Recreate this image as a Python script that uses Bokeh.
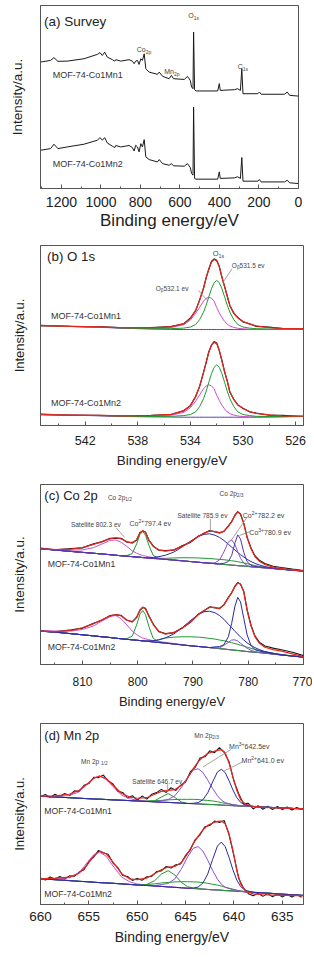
from bokeh.plotting import figure
from bokeh.layouts import column
from bokeh.models import Range1d, FixedTicker
from bokeh.core.properties import value
from bokeh.embed import file_html
from bokeh.resources import INLINE

FONT = "Liberation Sans"
AXC = "#555555"
TXT = "#222222"
ANN = "#444444"
RAW = "#1a1a1a"
RED = "#e8261c"
GRN = "#1f9a2e"
MAG = "#cc4fcf"
BLU = "#2a2aa0"
PUR = "#8a4fd0"
VIO = "#5a2fb5"
BAS = "#5b3fb8"
LEAD = "#8c8c8c"

SAMPLES = ["MOF-74-Co1Mn1", "MOF-74-Co1Mn2"]

# ---------------- (a) survey ----------------
SURV_E = [1306, 1255, 1238, 1218, 1171, 1086, 1018, 1005, 993, 981, 968, 942, 930, 925, 900, 858, 841, 832, 824, 815,
          807, 798, 790, 781, 773, 756, 714, 705, 688, 655, 643, 633, 578, 562, 548, 541, 534, 531, 526, 519,
          409, 401, 396, 325, 308, 294, 287, 281, 206, 198, 189, 71, 57, 45, 0]
SURV_I_1 = [69.1, 70.0, 71.5, 69.5, 69.6, 70.9, 73.3, 74.2, 72.7, 74.5, 71.8, 70.4, 69.6, 70.4, 69.6, 70.4, 69.6, 68.2, 69.6, 70.0,
            67.8, 70.9, 70.0, 73.6, 65.5, 63.6, 62.4, 63.6, 61.3, 60.0, 61.8, 60.0, 59.6, 61.3, 59.1, 55.5, 54.5, 85.5, 54.0, 53.3,
            53.3, 57.3, 53.6, 54.0, 54.5, 53.6, 65.5, 51.8, 51.8, 52.7, 51.5, 51.5, 52.7, 50.9, 50.5]
SURV_I_2 = [20.9, 21.8, 24.2, 21.8, 22.7, 24.2, 26.4, 27.8, 26.4, 27.8, 24.9, 23.1, 22.4, 23.5, 22.7, 23.5, 22.4, 20.5, 23.6, 22.7,
            20.0, 24.5, 22.7, 26.7, 17.3, 15.8, 14.5, 15.8, 13.6, 12.7, 13.6, 12.4, 12.2, 13.6, 11.5, 8.2, 7.3, 44.5, 5.5, 5.1,
            5.1, 9.1, 5.5, 5.8, 6.4, 5.5, 16.9, 4.0, 4.0, 4.9, 3.6, 3.6, 4.5, 3.1, 2.7]
SURV_TICKS = [1200, 1000, 800, 600, 400, 200, 0]
SURV_MINOR = [1300, 1100, 900, 700, 500, 300, 100]

# ---------------- (b) O 1s ----------------
E_O = [545.4, 543.0, 541.0, 539.0, 537.0, 535.5, 534.5, 534.0, 533.6, 533.3, 533.0, 532.8, 532.6, 532.4, 532.2,
       532.0, 531.8, 531.6, 531.4, 531.2, 531.0, 530.7, 530.4, 530.0, 529.5, 529.0, 528.0, 527.0, 525.4]
O_BASE_1 = [55.4, 55.0, 54.6, 54.0, 53.6, 53.4, 53.3, 53.3, 53.3, 53.3, 53.3, 53.3, 53.3, 53.3, 53.3,
            53.3, 53.3, 53.3, 53.3, 53.3, 53.3, 53.3, 53.3, 53.3, 53.3, 53.3, 53.3, 53.4, 53.5]
O_A_1 = [0, 0, 0.1, 0.1, 0.2, 0.4, 0.8, 1.4, 2.8, 5.5, 9.7, 13.6, 18.2, 22.6, 26.0,
         27.3, 26.0, 22.6, 18.2, 13.6, 9.7, 5.5, 2.8, 1.4, 0.8, 0.5, 0.3, 0.2, 0.1]
O_B_1 = [0.05, 0.1, 0.1, 0.2, 0.5, 1.0, 2.7, 5.3, 9.0, 12.4, 15.8, 17.4, 18.0, 17.4, 15.8,
         12.2, 9.2, 6.7, 4.5, 3.0, 2.0, 1.2, 0.7, 0.4, 0.2, 0.1, 0.1, 0.1, 0.1]
O_FIT_1 = [55.5, 55.1, 54.8, 54.3, 54.3, 54.8, 56.6, 59.5, 64.0, 69.5, 76.5, 82.0, 87.0, 90.8, 92.2,
           91.5, 88.0, 82.5, 77.0, 72.0, 66.5, 62.5, 59.8, 57.8, 56.3, 55.3, 54.4, 54.0, 53.7]
O_RAW_1 = [55.7, 55.0, 54.9, 54.2, 54.4, 54.9, 56.5, 59.7, 63.8, 69.8, 76.2, 82.3, 86.8, 91.1, 92.6,
           91.8, 88.3, 82.2, 77.3, 71.8, 66.7, 62.3, 60.0, 57.6, 56.5, 55.1, 54.6, 53.8, 53.8]
O_BASE_2 = [6.0, 5.7, 5.4, 5.0, 4.8, 4.7, 4.6, 4.6, 4.6, 4.6, 4.6, 4.6, 4.6, 4.6, 4.6,
            4.6, 4.6, 4.6, 4.6, 4.6, 4.6, 4.6, 4.6, 4.6, 4.6, 4.6, 4.7, 4.8, 5.0]
O_A_2 = [0, 0, 0.1, 0.1, 0.2, 0.4, 0.9, 1.5, 3.0, 5.9, 10.3, 14.5, 19.4, 24.1, 27.7,
         29.1, 27.7, 24.1, 19.4, 14.5, 10.3, 5.9, 3.0, 1.5, 0.9, 0.5, 0.3, 0.2, 0.1]
O_B_2 = [0.05, 0.1, 0.1, 0.2, 0.5, 1.0, 2.7, 5.3, 9.0, 12.4, 15.8, 17.4, 18.0, 17.4, 15.8,
         12.2, 9.2, 6.7, 4.5, 3.0, 2.0, 1.2, 0.7, 0.4, 0.2, 0.1, 0.1, 0.1, 0.1]
O_FIT_2 = [6.1, 5.8, 5.6, 5.3, 5.55, 6.2, 8.1, 11.2, 16.0, 21.9, 29.4, 35.3, 40.7, 44.7, 46.2,
           45.5, 41.7, 35.8, 30.0, 24.6, 18.7, 14.4, 11.6, 9.4, 7.8, 6.7, 5.9, 5.4, 5.2]
O_RAW_2 = [6.3, 5.7, 5.7, 5.2, 5.6, 6.0, 8.3, 11.0, 16.2, 21.6, 29.7, 35.0, 41.0, 44.5, 46.6,
           45.8, 41.5, 36.1, 29.8, 24.9, 18.5, 14.6, 11.4, 9.6, 7.6, 6.9, 5.7, 5.6, 5.0]
O_TICKS = [542, 538, 534, 530, 526]
O_MINOR = [544, 540, 536, 532, 528]

# ---------------- (c) Co 2p ----------------
E_CO = [817.6, 815, 812, 810, 808, 806.5, 805, 804, 803, 802, 801, 800.2, 799.6, 799.1, 798.6, 798, 797.2, 796.2,
        795, 793.5, 792, 790.5, 789, 788, 787, 786, 785.2, 784.4, 783.6, 783, 782.4, 781.9, 781.4, 780.8, 780.2,
        779.5, 778.8, 778, 777, 775.5, 774, 772, 770]
CO_BASE_1 = [64.3, 63.6, 62.8, 62.3, 61.8, 61.4, 61.0, 60.7, 60.4, 60.2, 59.9, 59.7, 59.6, 59.4, 59.3, 59.1, 58.9, 58.7,
             58.4, 58.0, 57.6, 57.2, 56.8, 56.5, 56.3, 56.0, 55.8, 55.6, 55.4, 55.2, 55.1, 54.9, 54.8, 54.7, 54.5,
             54.3, 54.1, 53.9, 53.7, 53.3, 52.9, 52.4, 51.9]
CO_SHIR_1 = [0, 0, 0, 0, 0, 0, 0, 0, 0, 0, 0, 0, 0, 0, 0, 0, 0, 0.2,
             0.6, 1.2, 1.7, 2.1, 2.4, 2.5, 2.6, 2.6, 2.6, 2.6, 2.5, 2.4, 2.3, 2.2, 2.0, 1.8, 1.5,
             1.2, 0.9, 0.6, 0.3, 0.1, 0, 0, 0]
CO_SAT1_1 = [0.1, 0.3, 0.7, 1.4, 3.1, 5.5, 7.9, 8.5, 7.5, 5.5, 3.3, 2.1, 1.5, 1.1, 0.9, 0.7, 0.5, 0.4,
             0.3, 0.2, 0.1, 0, 0, 0, 0, 0, 0, 0, 0, 0, 0, 0, 0, 0, 0,
             0, 0, 0, 0, 0, 0, 0, 0]
CO_P12_1 = [0, 0, 0, 0, 0, 0, 0, 0, 0, 0.3, 1.7, 7.3, 12.6, 14.5, 12.6, 7.3, 1.7, 0.3,
            0, 0, 0, 0, 0, 0, 0, 0, 0, 0, 0, 0, 0, 0, 0, 0, 0,
            0, 0, 0, 0, 0, 0, 0, 0]
CO_SAT2_1 = [0, 0, 0, 0, 0, 0, 0, 0, 0, 0, 0, 0, 0, 0, 0, 0.3, 0.6, 1.2,
             2.3, 4.4, 7.6, 11.2, 14.4, 15.8, 16.3, 15.8, 14.8, 13.3, 11.4, 10.0, 8.5, 7.3, 6.2, 5.0, 3.9,
             2.9, 2.1, 1.4, 0.7, 0.3, 0.1, 0, 0]
CO_II_1 = [0, 0, 0, 0, 0, 0, 0, 0, 0, 0, 0, 0, 0, 0, 0, 0, 0, 0,
           0, 0, 0, 0, 0, 0, 0, 0.5, 2.3, 7.0, 12.7, 14.0, 11.5, 7.8, 4.3, 1.6, 0.5,
           0.1, 0, 0, 0, 0, 0, 0, 0]
CO_III_1 = [0, 0, 0, 0, 0, 0, 0, 0, 0, 0, 0, 0, 0, 0, 0, 0, 0, 0,
            0, 0, 0, 0, 0, 0, 0, 0, 0, 0.6, 1.8, 5.4, 12.5, 17.1, 14.9, 7.5, 2.6,
            0.8, 0.4, 0.3, 0.2, 0.1, 0, 0, 0]
CO_FIT_1 = [64.3, 63.9, 64.1, 65.0, 66.7, 68.3, 69.8, 70.4, 69.8, 68.3, 67.4, 69.3, 73.0, 74.4, 73.3, 69.3, 65.6, 63.7,
            63.0, 63.7, 65.6, 68.0, 71.1, 73.0, 74.1, 73.9, 73.0, 74.1, 76.7, 79.6, 82.8, 84.6, 83.7, 78.1, 70.7,
            64.3, 60.0, 57.4, 55.6, 54.1, 53.3, 52.6, 51.9]
CO_RAW_1 = [64.6, 63.7, 64.4, 64.8, 67.0, 68.1, 70.1, 70.2, 70.1, 68.0, 67.7, 69.0, 73.3, 74.2, 73.6, 69.0, 65.9, 63.5,
            63.3, 63.5, 65.9, 67.8, 71.4, 72.8, 74.4, 73.7, 73.3, 73.9, 77.0, 79.3, 83.1, 84.9, 83.5, 78.4, 70.5,
            64.7, 60.4, 57.9, 56.1, 54.6, 53.9, 53.0, 52.2]
CO_BASE_2 = [18.5, 18.0, 17.1, 16.5, 15.9, 15.4, 15.0, 14.6, 14.3, 14.0, 13.7, 13.5, 13.3, 13.1, 13.0, 12.8, 12.5, 12.2,
             11.9, 11.4, 10.9, 10.4, 10.0, 9.7, 9.4, 9.1, 8.8, 8.6, 8.3, 8.1, 7.9, 7.8, 7.6, 7.4, 7.2,
             7.0, 6.8, 6.6, 6.3, 5.8, 5.3, 4.7, 4.1]
CO_SHIR_2 = [0, 0, 0, 0, 0, 0, 0, 0, 0, 0, 0, 0, 0, 0, 0, 0, 0.5, 1.5,
             2.8, 3.8, 4.5, 5.0, 5.2, 5.2, 5.1, 5.0, 4.8, 4.6, 4.3, 4.0, 3.7, 3.4, 3.1, 2.8, 2.4,
             2.0, 1.6, 1.2, 0.8, 0.5, 0.3, 0.1, 0]
CO_SAT1_2 = [0.2, 0.6, 1.5, 3.0, 5.5, 8.7, 11.7, 12.6, 11.1, 8.1, 4.9, 3.1, 2.2, 1.6, 1.3, 1.0, 0.7, 0.6,
             0.4, 0.3, 0.15, 0, 0, 0, 0, 0, 0, 0, 0, 0, 0, 0, 0, 0, 0,
             0, 0, 0, 0, 0, 0, 0, 0]
CO_P12_2 = [0, 0, 0, 0, 0, 0, 0, 0, 0, 0.35, 2.0, 8.5, 14.7, 16.9, 14.7, 8.5, 2.0, 0.35,
            0, 0, 0, 0, 0, 0, 0, 0, 0, 0, 0, 0, 0, 0, 0, 0, 0,
            0, 0, 0, 0, 0, 0, 0, 0]
CO_SAT2_2 = [0, 0, 0, 0, 0, 0, 0, 0, 0, 0, 0, 0, 0, 0, 0, 0.4, 0.7, 1.5,
             2.9, 5.5, 9.4, 13.9, 17.9, 19.6, 20.2, 19.6, 18.4, 16.5, 14.1, 12.4, 10.5, 9.1, 7.7, 6.2, 4.8,
             3.6, 2.6, 1.7, 0.9, 0.4, 0.1, 0, 0]
CO_II_2 = [0, 0, 0, 0, 0, 0, 0, 0, 0, 0, 0, 0, 0, 0, 0, 0, 0, 0,
           0, 0, 0, 0, 0, 0, 0, 0, 0.5, 2.0, 4.0, 5.5, 5.8, 5.2, 4.2, 3.0, 1.8,
           0.9, 0.4, 0.2, 0, 0, 0, 0, 0]
CO_III_2 = [0, 0, 0, 0, 0, 0, 0, 0, 0, 0, 0, 0, 0, 0, 0, 0, 0, 0,
            0, 0, 0, 0, 0, 0, 0, 0.7, 1.1, 2.4, 7.1, 14.8, 24.6, 29.5, 27.2, 18.1, 9.2,
            3.6, 1.5, 0.9, 0.6, 0.3, 0, 0, 0]
CO_FIT_2 = [18.5, 18.3, 18.9, 20.4, 22.6, 24.8, 26.9, 27.8, 27.0, 24.8, 23.5, 26.3, 30.0, 31.9, 30.9, 27.2, 22.2, 18.5,
            16.9, 17.8, 20.0, 23.5, 27.8, 30.0, 31.7, 31.7, 30.9, 33.3, 37.0, 40.0, 43.3, 45.2, 44.8, 40.2, 30.0,
            21.5, 15.5, 11.9, 9.6, 8.3, 7.4, 5.9, 4.4]
CO_RAW_2 = [18.8, 18.1, 19.2, 20.2, 22.9, 24.6, 27.2, 27.6, 27.3, 24.6, 23.8, 26.1, 30.3, 31.7, 31.2, 27.0, 22.5, 18.3,
            17.2, 17.6, 20.3, 23.3, 28.1, 29.8, 32.0, 31.5, 31.2, 33.1, 37.3, 39.8, 43.6, 45.5, 44.6, 40.5, 30.3,
            21.8, 15.9, 12.4, 10.3, 9.1, 8.2, 6.8, 4.9]
CO_TICKS = [810, 800, 790, 780, 770]
CO_MINOR = [815, 805, 795, 785, 775]

# ---------------- (d) Mn 2p ----------------
E_MN = [660, 658.5, 657, 656, 655.2, 654.5, 653.9, 653.2, 652.5, 651.6, 650.8, 650, 649, 648.2, 647.5, 646.8,
        646.1, 645.4, 644.8, 644.2, 643.7, 643.2, 642.7, 642.2, 641.7, 641.3, 640.9, 640.5, 640.1, 639.7,
        639.3, 638.8, 638, 637, 636, 635, 634, 632.8]
MN_BASE_1 = [59.8, 59.4, 59.0, 58.7, 58.5, 58.3, 58.2, 58.0, 57.8, 57.6, 57.4, 57.2, 56.9, 56.7, 56.5, 56.4,
             56.2, 56.0, 55.8, 55.7, 55.6, 55.4, 55.3, 55.2, 55.1, 54.9, 54.8, 54.7, 54.6, 54.5,
             54.4, 54.3, 54.1, 53.8, 53.6, 53.3, 53.1, 52.8]
MN_SHIR_1 = [0, 0, 0, 0, 0, 0, 0, 0, 0, 0, 0, 0, 0.3, 0.6, 1.0, 1.4,
             1.8, 2.1, 2.3, 2.4, 2.4, 2.3, 2.2, 2.0, 1.7, 1.4, 1.1, 0.8, 0.5, 0.3,
             0.1, 0, 0, 0, 0, 0, 0, 0]
MN_P12_1 = [0, 0.2, 1.2, 3.6, 7.9, 11.5, 12.8, 11.1, 7.3, 2.8, 1.1, 0.4, 0.2, 0, 0, 0,
            0, 0, 0, 0, 0, 0, 0, 0, 0, 0, 0, 0, 0, 0,
            0, 0, 0, 0, 0, 0, 0, 0]
MN_SAT_1 = [0, 0, 0, 0, 0, 0, 0, 0, 0, 0, 0, 0, 0, 0.6, 2.9, 4.9,
            2.9, 0.6, 0.1, 0, 0, 0, 0, 0, 0, 0, 0, 0, 0, 0,
            0, 0, 0, 0, 0, 0, 0, 0]
MN_III_1 = [0, 0, 0, 0, 0, 0, 0, 0, 0, 0, 0, 0, 0, 0.2, 0.8, 1.6,
            3.9, 8.9, 14.3, 18.6, 19.4, 17.5, 13.4, 8.9, 5.0, 2.8, 1.5, 1.0, 0.6, 0.4,
            0.2, 0, 0, 0, 0, 0, 0, 0]
MN_II_1 = [0, 0, 0, 0, 0, 0, 0, 0, 0, 0, 0, 0, 0, 0, 0, 0,
           0, 0, 0, 0.2, 0.7, 2.5, 6.4, 12.5, 18.1, 19.8, 18.1, 13.7, 8.7, 4.6,
           2.0, 0.6, 0.1, 0, 0, 0, 0, 0]
MN_FIT_1 = [59.8, 60.0, 60.9, 63.1, 66.4, 69.6, 71.0, 69.6, 65.9, 61.3, 59.4, 58.7, 59.0, 60.9, 62.5, 63.1,
            63.5, 65.9, 69.6, 75.1, 78.8, 81.5, 83.4, 84.3, 85.2, 85.6, 83.8, 78.2, 70.5, 63.1,
            57.9, 55.4, 54.2, 53.7, 53.5, 53.3, 53.1, 52.9]
MN_BASE_2 = [14.2, 13.7, 13.2, 12.8, 12.6, 12.3, 12.1, 11.9, 11.7, 11.4, 11.1, 10.8, 10.5, 10.2, 10.0, 9.7,
             9.5, 9.2, 9.0, 8.8, 8.7, 8.5, 8.3, 8.1, 8.0, 7.9, 7.7, 7.6, 7.5, 7.3,
             7.2, 7.0, 6.7, 6.4, 6.1, 5.7, 5.4, 5.0]
MN_SHIR_2 = [0, 0, 0, 0, 0, 0, 0, 0, 0, 0, 0, 0, 0.5, 1.2, 1.9, 2.5,
             3.0, 3.4, 3.6, 3.7, 3.7, 3.6, 3.4, 3.1, 2.7, 2.3, 1.9, 1.4, 1.0, 0.6,
             0.3, 0.1, 0, 0, 0, 0, 0, 0]
MN_P12_2 = [0, 0.3, 1.6, 4.8, 10.4, 15.2, 16.9, 14.7, 9.6, 3.7, 1.5, 0.5, 0.3, 0, 0, 0,
            0, 0, 0, 0, 0, 0, 0, 0, 0, 0, 0, 0, 0, 0,
            0, 0, 0, 0, 0, 0, 0, 0]
MN_SAT_2 = [0, 0, 0, 0, 0, 0, 0, 0, 0, 0, 0, 0, 0.6, 2.9, 6.8, 9.0,
            6.8, 2.9, 0.9, 0.2, 0, 0, 0, 0, 0, 0, 0, 0, 0, 0,
            0, 0, 0, 0, 0, 0, 0, 0]
MN_III_2 = [0, 0, 0, 0, 0, 0, 0, 0, 0, 0, 0, 0, 0, 0.2, 1.0, 1.9,
            4.7, 10.7, 17.2, 22.3, 23.3, 21.0, 16.1, 10.7, 6.0, 3.4, 1.8, 1.2, 0.7, 0.5,
            0.2, 0, 0, 0, 0, 0, 0, 0]
MN_II_2 = [0, 0, 0, 0, 0, 0, 0, 0, 0, 0, 0, 0, 0, 0, 0, 0,
           0, 0, 0, 0.3, 0.9, 3.4, 8.6, 16.8, 24.3, 26.6, 24.3, 18.4, 11.7, 6.2,
           2.7, 0.8, 0.1, 0, 0, 0, 0, 0]
MN_FIT_2 = [14.2, 14.6, 15.1, 17.3, 21.6, 26.8, 29.5, 28.0, 23.4, 17.0, 14.2, 13.7, 14.6, 17.0, 19.2, 20.7,
            21.0, 23.4, 28.0, 33.6, 37.6, 41.3, 43.7, 45.0, 45.9, 46.1, 44.6, 39.1, 29.9, 18.8,
            11.4, 7.4, 5.9, 5.4, 5.2, 5.0, 5.0, 4.8]
E_MN_RAW = [660.0, 659.5, 659.0, 658.5, 658.0, 657.5, 657.0, 656.5, 656.0, 655.5, 655.0, 654.5, 654.0, 653.5,
            653.0, 652.5, 652.0, 651.5, 651.0, 650.5, 650.0, 649.5, 649.0, 648.5, 648.0, 647.5, 647.0, 646.5,
            646.0, 645.5, 645.0, 644.5, 644.0, 643.5, 643.0, 642.5, 642.0, 641.5, 641.0, 640.5, 640.0, 639.5,
            639.0, 638.5, 638.0, 637.5, 637.0, 636.5, 636.0, 635.5, 635.0, 634.5, 634.0, 633.5, 633.0]
MN_RAW_1 = [59.5, 60.8, 59.2, 60.9, 59.6, 61.3, 60.2, 62.8, 62.4, 65.9, 66.8, 70.3, 70.1, 71.5,
            68.2, 66.6, 62.5, 61.9, 58.9, 60.1, 57.6, 59.9, 58.2, 60.9, 61.8, 63.6, 61.9, 64.5,
            63.0, 65.9, 67.6, 73.4, 75.8, 80.9, 81.6, 84.9, 83.9, 86.6, 84.0, 78.9, 68.2, 61.2,
            55.6, 55.9, 52.8, 54.6, 52.6, 54.3, 52.5, 54.2, 52.4, 53.9, 52.2, 53.6, 52.5]
MN_RAW_2 = [14.6, 13.5, 15.2, 14.0, 15.5, 14.1, 15.8, 15.6, 17.9, 19.2, 23.8, 26.2, 29.9, 28.5,
            27.8, 22.9, 20.4, 16.0, 15.5, 13.3, 14.4, 13.4, 15.3, 15.5, 18.2, 18.6, 21.0, 20.2,
            22.0, 22.4, 27.1, 30.2, 35.9, 38.5, 43.0, 43.6, 46.1, 45.3, 46.4, 38.5, 27.0, 14.4,
            9.0, 6.0, 4.8, 6.2, 4.5, 6.0, 4.3, 5.8, 4.2, 5.7, 4.1, 5.5, 4.0]
MN_TICKS = [660, 655, 650, 645, 640, 635]
MN_MINOR = [657.5, 652.5, 647.5, 642.5, 637.5]

# approximate Arial/Liberation Sans advance widths (em) for rich-text placement
AW = {' ': .278, '(': .333, ')': .333, '-': .333, '.': .278, '/': .278, '+': .584, 'a': .556, 'b': .556,
      'c': .5, 'd': .556, 'e': .556, 'i': .222, 'l': .222, 'n': .556, 'o': .556, 'p': .556, 's': .5, 't': .278,
      'v': .5, 'C': .722, 'M': .833, 'O': .778, 'S': .667, 'β': .575}


def tw(s, size):
    return sum(AW.get(ch, .556) for ch in s) * size


def rich(p, x, y, segs, size, color=ANN, align="left"):
    sizes = [size * 0.72 if k else size for _, k in segs]
    total = sum(tw(t, s) for (t, _), s in zip(segs, sizes))
    off = -total / 2 if align == "center" else 0.0
    for (t, k), s in zip(segs, sizes):
        dy = {None: 0.0, "sub": 0.32 * size, "sup": -0.38 * size}[k]
        p.text(x=[x], y=[y], text=[t], x_offset=off, y_offset=dy, text_font=value(FONT),
               text_font_size=f"{s:.1f}px", text_color=color, text_baseline="middle", text_align="left")
        off += tw(t, s)


def panel(fw, fh, xr, ticks, minor, top, bottom, left, right, tick_px, title_px, ylab_px,
          lab_so, title_so, ylab_so):
    p = figure(frame_width=fw, frame_height=fh, x_range=Range1d(*xr), y_range=Range1d(0, 100),
               output_backend="svg", toolbar_location=None, title=None,
               min_border_left=left, min_border_right=right, min_border_top=top, min_border_bottom=bottom)
    p.xgrid.visible = False
    p.ygrid.visible = False
    p.outline_line_color = AXC
    p.outline_line_width = 1
    xa = p.xaxis[0]
    xa.ticker = FixedTicker(ticks=ticks, minor_ticks=minor)
    xa.axis_label = "Binding energy/eV"
    xa.axis_label_text_font = FONT
    xa.axis_label_text_font_style = "normal"
    xa.axis_label_text_font_size = f"{title_px}px"
    xa.axis_label_text_color = TXT
    xa.axis_label_standoff = int(title_so)
    xa.major_label_text_font = FONT
    xa.major_label_text_font_size = f"{tick_px}px"
    xa.major_label_text_color = TXT
    xa.major_label_standoff = int(lab_so)
    xa.axis_line_color = AXC
    xa.major_tick_line_color = AXC
    xa.minor_tick_line_color = AXC
    xa.major_tick_in = 4
    xa.major_tick_out = 0
    xa.minor_tick_in = 2
    xa.minor_tick_out = 0
    ya = p.yaxis[0]
    ya.ticker = FixedTicker(ticks=[])
    ya.axis_label = "Intensity/a.u."
    ya.axis_label_text_font = FONT
    ya.axis_label_text_font_style = "normal"
    ya.axis_label_text_font_size = f"{ylab_px}px"
    ya.axis_label_text_color = TXT
    ya.axis_label_standoff = int(ylab_so)
    ya.major_label_standoff = 0
    ya.major_tick_out = 0
    ya.major_tick_in = 0
    ya.minor_tick_out = 0
    ya.minor_tick_in = 0
    ya.axis_line_color = AXC
    return p


def tag(p, x, y, txt, size, color=TXT):
    p.text(x=[x], y=[y], text=[txt], text_font=value(FONT), text_font_size=f"{size}px",
           text_color=color, text_baseline="middle", text_align="left")


def add(a, b):
    return [u + v for u, v in zip(a, b)]


def lead(p, segs):
    p.segment(x0=[s[0] for s in segs], y0=[s[1] for s in segs], x1=[s[2] for s in segs],
              y1=[s[3] for s in segs], line_color=LEAD, line_width=0.8)


# ---------------- build (a) ----------------
pa = panel(258, 183, (1306, 0), SURV_TICKS, SURV_MINOR, 5, 45, 40, 8, 14, 17, 13.5, 8, 1, 16)
pa.line(SURV_E, SURV_I_1, line_color=RAW, line_width=1)
pa.line(SURV_E, SURV_I_2, line_color=RAW, line_width=1)
tag(pa, 1288, 91.4, "(a) Survey", 13.5)
tag(pa, 1244, 61.8, SAMPLES[0], 9, "#333333")
tag(pa, 1244, 13.6, SAMPLES[1], 9, "#333333")
rich(pa, 531, 94.5, [("O", None), ("1s", "sub")], 7, align="center")
rich(pa, 819, 75.8, [("Co", None), ("2p", "sub")], 7)
rich(pa, 680, 64.0, [("Mn", None), ("2p", "sub")], 7)
rich(pa, 308, 66.4, [("C", None), ("1s", "sub")], 7)

# ---------------- build (b) ----------------
pb = panel(263, 180, (545.4, 525.4), O_TICKS, O_MINOR, 12, 47, 39, 8, 12.5, 13.5, 13, 10, 5, 14)
for raw, base, ca, cb, fit in [(O_RAW_1, O_BASE_1, O_A_1, O_B_1, O_FIT_1),
                               (O_RAW_2, O_BASE_2, O_A_2, O_B_2, O_FIT_2)]:
    pb.line(E_O, raw, line_color=RAW, line_width=1.2)
    pb.line(E_O, base, line_color=BAS, line_width=1)
    pb.line(E_O, add(base, cb), line_color=MAG, line_width=1)
    pb.line(E_O, add(base, ca), line_color=GRN, line_width=1)
    pb.line(E_O, fit, line_color=RED, line_width=1.2)
tag(pb, 544.9, 93.9, "(b) O 1s", 13.3)
tag(pb, 544.6, 61.1, SAMPLES[0], 9, "#333333")
tag(pb, 544.6, 12.4, SAMPLES[1], 9, "#333333")
rich(pb, 531.87, 95.4, [("O", None), ("1s", "sub")], 7.5, align="center")
rich(pb, 530.85, 88.9, [("O", None), ("β", "sub"), (" 531.5 ev", None)], 6.5)
rich(pb, 536.64, 75.9, [("O", None), ("β", "sub"), (" 532.1 ev", None)], 6.5)
lead(pb, [(531.56, 79.1, 530.85, 87.0), (533.39, 75.0, 532.76, 69.8)])

# ---------------- build (c) ----------------
pc = panel(263, 180, (817.6, 770), CO_TICKS, CO_MINOR, 12, 47, 39, 10, 12, 13, 13.5, 12, 5, 14)
for raw, base, shir, s1, p12, s2, c2, c3, fit, c3col in [
        (CO_RAW_1, CO_BASE_1, CO_SHIR_1, CO_SAT1_1, CO_P12_1, CO_SAT2_1, CO_II_1, CO_III_1, CO_FIT_1, VIO),
        (CO_RAW_2, CO_BASE_2, CO_SHIR_2, CO_SAT1_2, CO_P12_2, CO_SAT2_2, CO_II_2, CO_III_2, CO_FIT_2, BLU)]:
    pc.line(E_CO, raw, line_color=RAW, line_width=1.2)
    pc.line(E_CO, base, line_color=BAS, line_width=1)
    pc.line(E_CO, add(base, shir), line_color=GRN, line_width=1)
    pc.line(E_CO, add(base, s1), line_color=MAG, line_width=1)
    pc.line(E_CO, add(base, p12), line_color=GRN, line_width=1)
    pc.line(E_CO, add(base, s2), line_color=BLU, line_width=1)
    pc.line(E_CO, add(base, c2), line_color=PUR, line_width=1)
    pc.line(E_CO, add(base, c3), line_color=c3col, line_width=1)
    pc.line(E_CO, fit, line_color=RED, line_width=1.2)
tag(pc, 816.9, 93.9, "(c) Co 2p", 13)
tag(pc, 816.3, 55.9, SAMPLES[0], 8.7, "#333333")
tag(pc, 816.3, 10.0, SAMPLES[1], 8.7, "#333333")
rich(pc, 805.4, 93.0, [("Co 2p", None), ("1/2", "sub")], 6.5)
rich(pc, 785.2, 94.8, [("Co 2p", None), ("2/3", "sub")], 6.5)
rich(pc, 812.1, 77.8, [("Satellite 802.3 ev", None)], 6.5)
rich(pc, 801.5, 78.5, [("Co", None), ("2+", "sup"), (" 797.4 ev", None)], 7)
rich(pc, 792.8, 82.8, [("Satellite 785.9 ev", None)], 6.5)
rich(pc, 781.0, 82.8, [("Co", None), ("2+", "sup"), (" 782.2 ev", None)], 7)
rich(pc, 779.8, 73.5, [("Co", None), ("3+", "sup"), (" 780.9 ev", None)], 7)
lead(pc, [(803.9, 75.9, 802.4, 70.7), (786.85, 80.9, 786.85, 74.4),
          (783.1, 68.9, 780.2, 81.9), (781.6, 71.7, 779.5, 74.1)])

# ---------------- build (d) ----------------
pd_ = panel(263, 181, (660, 632.8), MN_TICKS, MN_MINOR, 12, 48, 39, 8, 13.5, 14, 13, 7, 5, 14)
for raw, base, shir, p12, sat, c3, c2, fit in [
        (MN_RAW_1, MN_BASE_1, MN_SHIR_1, MN_P12_1, MN_SAT_1, MN_III_1, MN_II_1, MN_FIT_1),
        (MN_RAW_2, MN_BASE_2, MN_SHIR_2, MN_P12_2, MN_SAT_2, MN_III_2, MN_II_2, MN_FIT_2)]:
    pd_.line(E_MN_RAW, raw, line_color=RAW, line_width=1.1)
    pd_.line(E_MN, base, line_color=BAS, line_width=1)
    pd_.line(E_MN, add(base, shir), line_color=GRN, line_width=1)
    pd_.line(E_MN, add(base, p12), line_color=MAG, line_width=1)
    pd_.line(E_MN, add(base, sat), line_color=GRN, line_width=1)
    pd_.line(E_MN, add(base, c3), line_color=PUR, line_width=1)
    pd_.line(E_MN, add(base, c2), line_color=BLU, line_width=1)
    pd_.line(E_MN, fit, line_color=RED, line_width=1.2)
tag(pd_, 659.6, 93.4, "(d) Mn 2p", 12.8)
tag(pd_, 659.6, 51.5, SAMPLES[0], 8.7, "#333333")
tag(pd_, 659.6, 5.9, SAMPLES[1], 8.7, "#333333")
rich(pd_, 655.8, 78.8, [("Mn  2p", None), ("1/2", "sub")], 6.5)
rich(pd_, 644.1, 93.5, [("Mn 2p", None), ("2/3", "sub")], 6.5)
rich(pd_, 650.5, 67.7, [("Satellite 646.7 ev", None)], 6.5)
rich(pd_, 640.5, 87.1, [("Mn", None), ("3+", "sup"), (" 642.5ev", None)], 7)
rich(pd_, 639.2, 79.7, [("Mn", None), ("2+", "sup"), (" 641.0 ev", None)], 7)
lead(pd_, [(646.85, 66.4, 646.85, 62.2), (643.2, 76.0, 640.3, 85.6), (641.0, 73.8, 639.1, 78.8)])

layout = column(pa, pb, pc, pd_, spacing=0)
open("out.html", "w").write(file_html(layout, INLINE))
